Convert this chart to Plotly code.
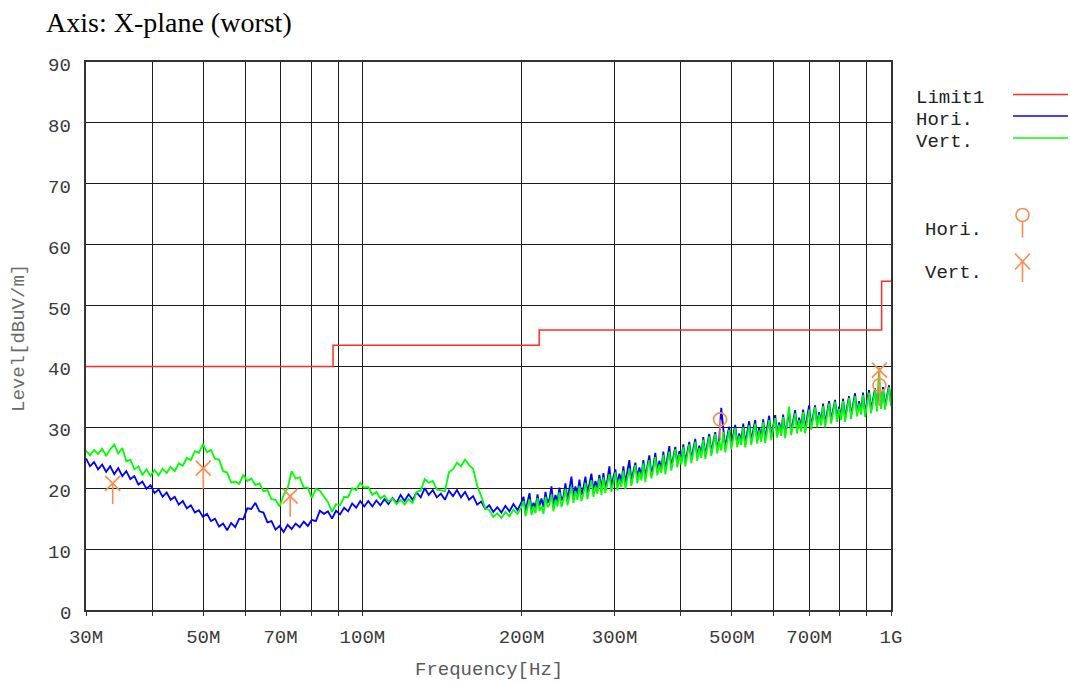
import numpy as np
import plotly.graph_objects as go

# ---------------- data ----------------
# receiver sweep: two sub-ranges (MHz) with their point counts
SWEEP1_MHZ = (30.0, 200.0)
SWEEP1_POINTS = 109
SWEEP2_MHZ = (200.0, 1000.0)
SWEEP2_POINTS = 186          # first point shared with the end of sweep 1

# Horizontal polarisation trace (dBuV/m)
HORI_DB_LOW = [
    24.9, 23.6, 24.3, 23.1, 23.9, 22.7, 23.6, 22.3, 23.3, 22.0,
    22.8, 21.5, 22.0, 20.6, 21.1, 19.9, 20.5, 19.2, 19.8, 18.6,
    19.3, 18.1, 18.6, 17.3, 17.9, 16.7, 17.2, 16.0, 16.4, 15.3,
    15.8, 14.6, 15.0, 13.7, 14.2, 13.1, 14.3, 13.6, 15.0, 14.9,
    16.7, 16.6, 17.6, 16.2, 16.0, 14.4, 14.6, 13.2, 13.8, 12.8,
    14.0, 13.3, 14.2, 13.6, 14.5, 13.8, 14.8, 14.6, 16.3, 15.8,
    16.2, 15.0, 16.3, 15.7, 16.8, 16.2, 17.5, 16.8, 17.9, 17.0,
    17.9, 17.0, 18.0, 17.2, 18.2, 17.4, 18.4, 17.6, 18.9, 17.9,
    19.0, 18.1, 19.3, 18.5, 20.0, 18.9, 19.7, 18.5, 19.1, 18.1,
    19.6, 18.7, 19.7, 18.5, 19.4, 18.1, 18.7, 17.3, 17.8, 16.6,
    17.2, 16.1, 16.9, 16.0, 17.1, 16.2, 17.4, 16.4, 17.7,
]
HORI_DB_HIGH = [
    18.6, 16.3, 17.9, 19.2, 16.5, 17.6, 16.8, 19.0, 17.1, 18.3,
    16.9, 19.4, 17.6, 18.2, 20.3, 17.2, 18.9, 17.8, 20.1, 18.0,
    18.6, 20.8, 18.0, 19.7, 21.9, 18.5, 20.3, 19.0, 21.4, 18.9,
    20.1, 21.9, 19.3, 20.7, 22.4, 19.6, 21.2, 20.0, 22.2, 19.8,
    22.5, 20.0, 21.4, 23.6, 20.3, 21.8, 23.1, 20.6, 22.4, 21.0,
    23.6, 20.9, 22.6, 24.6, 21.3, 22.8, 24.2, 21.7, 23.4, 22.0,
    24.6, 21.9, 23.8, 25.4, 22.4, 23.6, 25.8, 22.8, 24.5, 23.2,
    26.0, 23.0, 24.9, 26.9, 23.5, 25.2, 26.8, 24.0, 26.1, 24.4,
    27.2, 24.3, 26.1, 27.6, 24.8, 26.3, 28.1, 25.1, 27.0, 25.6,
    28.4, 25.4, 27.3, 28.9, 25.9, 27.6, 29.2, 26.3, 28.2, 33.2,
    29.5, 26.6, 28.5, 30.1, 27.0, 28.7, 30.4, 27.2, 29.0, 27.6,
    30.6, 27.3, 29.3, 31.0, 27.7, 29.5, 31.2, 27.9, 30.0, 28.2,
    31.3, 28.0, 30.1, 31.9, 28.4, 30.2, 32.0, 28.8, 30.8, 29.1,
    32.1, 28.9, 30.9, 32.5, 29.3, 31.2, 32.8, 29.6, 31.6, 29.9,
    32.9, 29.7, 31.7, 33.6, 30.2, 32.0, 33.6, 30.5, 32.5, 30.8,
    33.9, 30.6, 32.6, 34.3, 31.2, 32.8, 34.5, 31.4, 33.4, 31.7,
    34.7, 31.5, 33.5, 35.1, 31.9, 33.7, 35.6, 32.2, 34.3, 32.6,
    35.7, 32.3, 34.4, 36.1, 32.8, 34.5, 36.4, 33.1, 37.0, 33.4,
    36.6, 33.4, 35.3, 36.9, 33.9,
]

# Vertical polarisation trace (dBuV/m)
VERT_DB_LOW = [
    26.2, 25.4, 26.3, 25.6, 26.5, 25.3, 26.4, 27.2, 25.7, 26.6,
    24.4, 24.7, 23.1, 23.6, 22.2, 23.1, 22.0, 23.0, 22.1, 23.2,
    22.5, 23.5, 22.8, 24.1, 23.7, 25.0, 24.6, 26.1, 25.8, 27.3,
    25.9, 26.3, 24.8, 24.7, 22.8, 22.6, 20.9, 21.1, 20.7, 22.2,
    21.2, 21.6, 20.5, 20.8, 19.5, 19.7, 18.2, 18.1, 17.0, 18.9,
    20.0, 22.8, 21.6, 21.8, 20.1, 20.1, 18.4, 19.9, 19.6, 18.6,
    17.7, 16.1, 17.4, 17.2, 18.6, 18.5, 20.0, 19.7, 20.9, 20.1,
    20.2, 18.9, 19.4, 18.3, 18.8, 17.8, 18.3, 17.4, 18.1, 17.3,
    18.2, 17.6, 19.4, 19.6, 21.5, 20.9, 21.2, 19.8, 19.7, 19.5,
    22.6, 23.1, 24.2, 23.6, 24.7, 23.8, 23.2, 20.4, 18.7, 16.7,
    16.4, 15.3, 15.9, 15.1, 16.1, 15.4, 16.5, 15.8, 16.9,
]
VERT_DB_HIGH = [
    17.9, 15.4, 16.8, 18.2, 15.6, 17.1, 15.9, 18.4, 16.3, 17.0,
    15.8, 18.6, 16.9, 17.3, 19.0, 16.2, 18.1, 17.0, 19.3, 16.9,
    18.0, 19.9, 17.2, 18.8, 20.2, 17.6, 19.5, 18.1, 20.4, 17.9,
    19.0, 20.9, 18.2, 19.8, 21.3, 18.6, 20.4, 19.1, 21.6, 18.9,
    21.8, 19.2, 20.6, 22.3, 19.4, 21.0, 22.6, 19.7, 21.5, 20.2,
    22.9, 19.9, 21.8, 23.2, 20.4, 22.1, 23.8, 20.8, 22.7, 21.3,
    24.1, 21.0, 23.3, 24.6, 21.6, 23.0, 25.1, 22.1, 23.9, 22.5,
    25.5, 22.3, 24.4, 26.0, 22.9, 24.8, 26.4, 23.4, 25.6, 23.9,
    26.8, 23.6, 25.7, 27.2, 24.1, 25.9, 27.6, 24.5, 26.6, 25.0,
    28.0, 24.8, 26.9, 28.5, 25.3, 27.2, 28.9, 25.7, 27.8, 26.2,
    29.2, 25.9, 28.0, 29.6, 26.4, 28.3, 29.9, 26.7, 28.6, 27.1,
    30.0, 26.7, 28.9, 30.3, 27.1, 29.0, 30.6, 27.3, 29.5, 27.6,
    30.8, 27.4, 29.6, 31.2, 27.9, 29.8, 31.5, 28.3, 30.4, 28.6,
    31.7, 28.2, 30.5, 33.4, 28.7, 30.8, 32.3, 29.0, 31.2, 29.3,
    32.5, 29.0, 31.3, 32.9, 29.6, 31.6, 33.3, 30.0, 32.1, 30.3,
    33.5, 30.0, 32.2, 33.9, 30.6, 32.4, 34.2, 30.9, 33.0, 31.2,
    34.3, 30.9, 33.1, 34.8, 31.4, 33.3, 35.1, 31.8, 33.9, 32.1,
    35.3, 31.7, 34.0, 35.7, 32.3, 34.2, 36.0, 32.6, 39.8, 33.0,
    36.3, 32.9, 35.0, 36.6, 33.5,
]

# Limit line (step)
LIMIT_MHZ = [30, 88, 216, 960, 1000]
LIMIT_DB = [40, 43.5, 46, 54, 54]

# Final measurement points
HORI_PK_MHZ = [475, 951]
HORI_PK_DB = [31.3, 36.9]
VERT_PK_MHZ = [33.7, 50.0, 73.0, 951]
VERT_PK_DB = [20.8, 23.3, 18.7, 39.4]

# Axis ticks
X_TICK_MHZ = [30, 40, 50, 60, 70, 80, 90, 100, 200, 300, 400, 500, 600, 700, 800, 900, 1000]
X_TICK_TEXT = ["30M", "", "50M", "", "70M", "", "", "100M", "200M", "300M", "",
               "500M", "", "700M", "", "", "1G"]
Y_TICKS = [0, 10, 20, 30, 40, 50, 60, 70, 80, 90]

# Legend labels
LEGEND_LINES = ["Limit1", "Hori.", "Vert."]
LEGEND_MARKS = ["Hori.", "Vert."]

# ---------------- style ----------------
W, H = 1070, 684
PL, PR, PT, PB = 86, 891, 62, 610          # plot area in pixels
MONO = "Liberation Mono, Courier New, monospace"
SERIF = "Liberation Serif, Times New Roman, serif"
C_LIMIT = "#ff2b2b"
C_HORI = "#0000ff"
C_VERT = "#00ff00"
C_MARK = "#ff8a50"
C_GRID = "#1c1c1c"
C_TICK = "#3a3a3a"
STICK_DB = 3.4
TRACE_W = 1.8

freq = np.concatenate([
    np.geomspace(SWEEP1_MHZ[0], SWEEP1_MHZ[1], SWEEP1_POINTS),
    np.geomspace(SWEEP2_MHZ[0], SWEEP2_MHZ[1], SWEEP2_POINTS)[1:],
])
hori = HORI_DB_LOW + HORI_DB_HIGH
vert = VERT_DB_LOW + VERT_DB_HIGH

fig = go.Figure()
fig.add_trace(go.Scatter(x=freq, y=hori, mode="lines",
                         line=dict(color=C_HORI, width=TRACE_W), name="Hori."))
fig.add_trace(go.Scatter(x=freq, y=vert, mode="lines",
                         line=dict(color=C_VERT, width=TRACE_W), name="Vert."))
fig.add_trace(go.Scatter(x=LIMIT_MHZ, y=LIMIT_DB, mode="lines",
                         line=dict(color=C_LIMIT, width=1.5, shape="hv"), name="Limit1"))
fig.add_trace(go.Scatter(
    x=HORI_PK_MHZ, y=HORI_PK_DB, mode="markers", name="Hori. pk",
    marker=dict(symbol="circle-open", size=13, color=C_MARK, line=dict(width=1.6, color=C_MARK)),
    error_y=dict(type="data", symmetric=False, array=[0] * len(HORI_PK_DB),
                 arrayminus=[STICK_DB] * len(HORI_PK_DB), width=0, thickness=1.6, color=C_MARK)))
fig.add_trace(go.Scatter(
    x=VERT_PK_MHZ, y=VERT_PK_DB, mode="markers", name="Vert. pk",
    marker=dict(symbol="x-thin-open", size=15, color=C_MARK, line=dict(width=1.6, color=C_MARK)),
    error_y=dict(type="data", symmetric=False, array=[0] * len(VERT_PK_DB),
                 arrayminus=[STICK_DB] * len(VERT_PK_DB), width=0, thickness=1.6, color=C_MARK)))


def px(x):
    return (x - PL) / (PR - PL)


def py(y):
    return (PB - y) / (PB - PT)


shapes = []
annotations = []

# legend: line samples
leg_colors = [C_LIMIT, C_HORI, C_VERT]
leg_line_y = [94.5, 116, 138]
leg_text_y = [98, 120, 142]
for lab, col, ly, ty in zip(LEGEND_LINES, leg_colors, leg_line_y, leg_text_y):
    shapes.append(dict(type="line", xref="paper", yref="paper",
                       x0=px(1013), x1=px(1068), y0=py(ly), y1=py(ly),
                       line=dict(color=col, width=1.5)))
    annotations.append(dict(text=lab, xref="paper", yref="paper", x=px(914), y=py(ty),
                            xanchor="left", yanchor="middle", showarrow=False,
                            font=dict(family=MONO, size=19, color="#222")))

# legend: marker samples
mx = 1022.5
for lab, ty in zip(LEGEND_MARKS, [230, 273]):
    annotations.append(dict(text=lab, xref="paper", yref="paper", x=px(923), y=py(ty),
                            xanchor="left", yanchor="middle", showarrow=False,
                            font=dict(family=MONO, size=19, color="#222")))
shapes.append(dict(type="circle", xref="paper", yref="paper",
                   x0=px(mx - 6.5), x1=px(mx + 6.5), y0=py(208.5), y1=py(221.5),
                   line=dict(color=C_MARK, width=1.6)))
shapes.append(dict(type="line", xref="paper", yref="paper",
                   x0=px(mx), x1=px(mx), y0=py(221.5), y1=py(237.5),
                   line=dict(color=C_MARK, width=1.6)))
shapes.append(dict(type="line", xref="paper", yref="paper",
                   x0=px(mx - 7.5), x1=px(mx + 7.5), y0=py(253.5), y1=py(269.5),
                   line=dict(color=C_MARK, width=1.6)))
shapes.append(dict(type="line", xref="paper", yref="paper",
                   x0=px(mx + 7.5), x1=px(mx - 7.5), y0=py(253.5), y1=py(269.5),
                   line=dict(color=C_MARK, width=1.6)))
shapes.append(dict(type="line", xref="paper", yref="paper",
                   x0=px(mx), x1=px(mx), y0=py(261.5), y1=py(282),
                   line=dict(color=C_MARK, width=1.6)))

# y tick labels (drawn slightly below their grid lines, as in the original)
for v in Y_TICKS:
    annotations.append(dict(text=str(v), xref="paper", yref="y", x=px(73), y=v, yshift=-4,
                            xanchor="right", yanchor="middle", showarrow=False,
                            font=dict(family=MONO, size=19, color=C_TICK)))

# axis titles
annotations.append(dict(text="Frequency[Hz]", xref="paper", yref="paper", x=px(489), y=py(670),
                        xanchor="center", yanchor="middle", showarrow=False,
                        font=dict(family=MONO, size=19, color="#5a5a5a")))
annotations.append(dict(text="Level[dBuV/m]", xref="paper", yref="paper", x=px(19), y=py(338),
                        xanchor="center", yanchor="middle", showarrow=False, textangle=-90,
                        font=dict(family=MONO, size=19, color="#6a6a6a")))

fig.update_layout(
    width=W, height=H, autosize=False,
    margin=dict(l=PL, r=W - PR, t=PT, b=H - PB, pad=0),
    paper_bgcolor="white", plot_bgcolor="white",
    showlegend=False,
    title=dict(text="Axis: X-plane (worst)", x=46 / W, xref="container", xanchor="left",
               y=1 - 22 / H, yref="container", yanchor="middle",
               font=dict(family=SERIF, size=28, color="black")),
    shapes=shapes, annotations=annotations,
)
fig.update_xaxes(type="log", range=[np.log10(SWEEP1_MHZ[0]), np.log10(SWEEP2_MHZ[1])],
                 tickmode="array", tickvals=X_TICK_MHZ, ticktext=X_TICK_TEXT,
                 showgrid=True, gridcolor=C_GRID, gridwidth=1.3,
                 showline=True, linecolor="#333", linewidth=1.5, mirror=True,
                 ticks="outside", ticklen=4, tickcolor="#333", tickwidth=1.3,
                 ticklabelstandoff=4,
                 tickfont=dict(family=MONO, size=19, color=C_TICK), zeroline=False)
fig.update_yaxes(range=[0, 90], tickmode="array", tickvals=Y_TICKS, showticklabels=False,
                 showgrid=True, gridcolor=C_GRID, gridwidth=1.3,
                 showline=True, linecolor="#333", linewidth=1.5, mirror=True,
                 ticks="", zeroline=False)

fig.write_html("out.html")
